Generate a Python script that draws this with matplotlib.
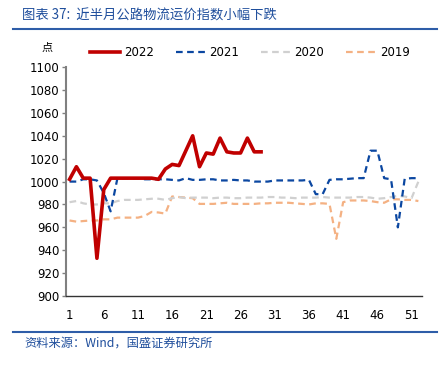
import numpy as np
import matplotlib.pyplot as plt
from matplotlib.lines import Line2D

plt.rcParams['font.family'] = ['DejaVu Sans', 'Noto Sans CJK SC']

# 周数据
weeks_2022 = list(range(1, 30))
v2022 = [1002, 1013, 1003, 1003, 933, 993, 1003, 1003, 1003, 1003, 1003, 1003, 1003, 1002,
         1011, 1015, 1014, 1027, 1040, 1013, 1025, 1024, 1038, 1026, 1025, 1025, 1038, 1026, 1026]

weeks = list(range(1, 53))
v2021 = [1000, 1000, 1002, 1002, 1001, 990, 974, 1003, 1003, 1003, 1003, 1002, 1002, 1002,
         1002, 1001.5, 1001, 1003, 1001.5, 1001.5, 1002, 1002, 1001, 1001, 1001.5, 1001, 1001,
         1000, 1000, 1000, 1001, 1001, 1001, 1001, 1001, 1001.5, 989, 989, 1001.5, 1002, 1002,
         1002.5, 1003, 1003, 1027, 1027, 1003, 1002, 960, 1002.5, 1003, 1003]
v2020 = [982, 983, 981, 980, 980, 981, 981, 983, 984, 984, 984, 984.5, 985, 985, 984, 985.5,
         986.5, 985.5, 986, 986, 986, 985.5, 986, 986, 985.5, 985.5, 986, 986, 986, 986.5,
         986.5, 986, 986, 985.5, 986, 986, 986, 986.5, 986, 986, 986, 986, 986.5, 986.5, 986,
         985, 985.5, 986.5, 987.5, 987, 985.5, 1000]
v2019 = [966, 965, 965.5, 966, 966, 967, 967, 968.5, 968.5, 968.5, 968.5, 970, 973.5, 973,
         972, 987, 986.5, 986, 985.5, 980.5, 980.5, 980.5, 981, 981.5, 980.5, 980.5, 980.5,
         980.5, 981, 981, 981.5, 981.5, 981.5, 981, 980.5, 980, 981, 981, 980.5, 950, 982,
         983.5, 983.5, 983.5, 983, 982, 981.5, 984.5, 984.5, 984, 984, 983]

fig = plt.figure(figsize=(4.44, 3.65), dpi=100)
ax = fig.add_axes([0.149, 0.189, 0.801, 0.627])

ax.plot(weeks, v2019, color='#F4B183', lw=1.6, dashes=(3, 2))
ax.plot(weeks, v2020, color='#D0D0D0', lw=1.6, dashes=(3, 2))
ax.plot(weeks, v2021, color='#0B47A1', lw=1.6, dashes=(3, 2))
ax.plot(weeks_2022, v2022, color='#C00000', lw=2.6)

ax.set_xlim(0.5, 52.5)
ax.set_ylim(900, 1100)
ax.set_yticks(np.arange(900, 1101, 20))
ax.set_xticks(np.arange(1, 52, 5))
ax.tick_params(axis='y', length=3, width=1, color='#808080', labelsize=8.5, pad=2)
ax.tick_params(axis='x', length=0, labelsize=8.5, pad=9)
for s in ['top', 'right']:
    ax.spines[s].set_visible(False)
ax.spines['left'].set_color('#808080')
ax.spines['left'].set_linewidth(1.5)
ax.spines['bottom'].set_color('#333333')
ax.spines['bottom'].set_linewidth(1.0)

handles = [Line2D([], [], color='#C00000', lw=2.6),
           Line2D([], [], color='#0B47A1', lw=1.6, dashes=(3, 2)),
           Line2D([], [], color='#D0D0D0', lw=1.6, dashes=(3, 2)),
           Line2D([], [], color='#F4B183', lw=1.6, dashes=(3, 2))]
fig.legend(handles, ['2022', '2021', '2020', '2019'], loc='center', ncol=4,
           bbox_to_anchor=(0.563, 0.855), frameon=False, fontsize=8.5,
           handlelength=2.5, columnspacing=1.85, handletextpad=0.35)

fig.text(0.093, 0.868, '点', fontsize=8, family=['Noto Sans CJK SC'], va='center')

title_color = '#1F4E9C'
fig.text(0.05, 0.958, '图表 37:  近半月公路物流运价指数小幅下跌', fontsize=9.6, style='italic',
         color=title_color, family=['Noto Sans CJK SC', 'DejaVu Sans'], va='center')
fig.add_artist(Line2D([0.03, 0.985], [0.921, 0.921], color='#2E5DA8', lw=1.5))
fig.add_artist(Line2D([0.03, 0.985], [0.09, 0.09], color='#2E5DA8', lw=1.5))
fig.text(0.055, 0.06, '资料来源：Wind，国盛证券研究所', fontsize=8.8, style='italic',
         color=title_color, family=['Noto Sans CJK SC', 'DejaVu Sans'], va='center')

fig.savefig('out.png', dpi=100)
